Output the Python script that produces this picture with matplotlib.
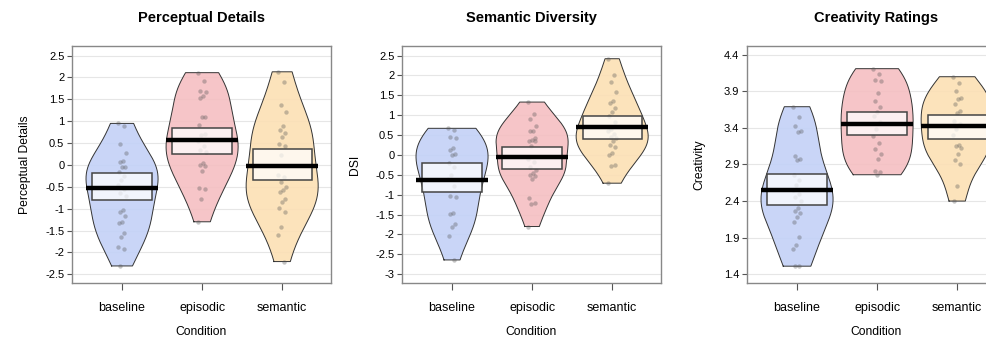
import numpy as np
import matplotlib
matplotlib.use("Agg")
import matplotlib.pyplot as plt

plt.rcParams['font.family'] = ['Liberation Sans', 'DejaVu Sans']
plt.rcParams['axes.unicode_minus'] = False

conditions = ["baseline", "episodic", "semantic"]
colors = ["#c3d1f7", "#f5bfc2", "#fce0b4"]

# Perceptual Details
pd_baseline = [0.95, 0.89, 0.48, 0.27, 0.08, 0.07, -0.04, -0.05, -0.17, -0.25, -0.35, -0.45,
               -0.55, -0.65, -0.70, -1.03, -1.07, -1.16, -1.30, -1.32, -1.55, -1.64, -1.87, -1.92, -2.31]
pd_episodic = [2.11, 1.93, 1.70, 1.66, 1.58, 1.54, 1.10, 1.09, 0.91, 0.71, 0.69, 0.55, 0.43, 0.34,
               0.30, 0.04, 0.00, -0.02, -0.14, -0.52, -0.55, -0.79, -1.30]
pd_semantic = [2.13, 1.89, 1.37, 1.22, 0.89, 0.80, 0.74, 0.63, 0.48, 0.43, 0.23, -0.23, -0.27,
               -0.38, -0.50, -0.57, -0.61, -0.77, -0.84, -0.99, -1.07, -1.43, -1.60, -2.21]
pd_means = [-0.52, 0.57, -0.02]
pd_low = [-0.80, 0.25, -0.34]
pd_high = [-0.175, 0.84, 0.36]

# Semantic Diversity (DSI)
dsi_baseline = [0.67, 0.63, 0.46, 0.42, 0.17, 0.13, 0.02, 0.00, -0.20, -0.30, -0.50, -0.60, -0.79,
                -1.02, -1.05, -1.46, -1.48, -1.74, -1.82, -2.03, -2.64]
dsi_episodic = [1.33, 1.03, 0.91, 0.73, 0.61, 0.59, 0.42, 0.38, 0.36, 0.34, 0.23, -0.10, -0.17,
                -0.30, -0.39, -0.45, -0.50, -0.54, -0.60, -1.09, -1.20, -1.24, -1.80]
dsi_semantic = [2.42, 2.01, 1.83, 1.59, 1.36, 1.30, 1.18, 1.08, 0.97, 0.84, 0.65, 0.60, 0.52, 0.45,
                0.42, 0.34, 0.25, 0.19, 0.04, 0.00, -0.25, -0.29, -0.71]
dsi_means = [-0.63, -0.06, 0.70]
dsi_low = [-0.94, -0.35, 0.40]
dsi_high = [-0.21, 0.21, 0.97]

# Creativity Ratings
cr_baseline = [3.69, 3.55, 3.42, 3.36, 3.34, 3.01, 2.97, 2.96, 2.75, 2.69, 2.62, 2.55, 2.49, 2.45,
               2.40, 2.30, 2.27, 2.24, 2.18, 2.11, 1.91, 1.80, 1.75, 1.51, 1.51]
cr_episodic = [4.21, 4.14, 4.06, 4.04, 3.88, 3.77, 3.69, 3.62, 3.56, 3.48, 3.38, 3.29, 3.20, 3.11,
               3.04, 2.97, 2.81, 2.80, 2.76]
cr_semantic = [4.10, 4.01, 3.90, 3.81, 3.79, 3.73, 3.63, 3.61, 3.50, 3.45, 3.39, 3.31, 3.16, 3.15,
               3.13, 3.04, 2.96, 2.90, 2.60, 2.40]
cr_means = [2.55, 3.46, 3.43]
cr_low = [2.34, 3.30, 3.25]
cr_high = [2.77, 3.62, 3.57]

panels = [
    ("Perceptual Details", "Perceptual Details", [pd_baseline, pd_episodic, pd_semantic],
     pd_means, pd_low, pd_high, [2.5, 2, 1.5, 1, 0.5, 0, -0.5, -1, -1.5, -2, -2.5], (-2.70, 2.72)),
    ("Semantic Diversity", "DSI", [dsi_baseline, dsi_episodic, dsi_semantic],
     dsi_means, dsi_low, dsi_high, [2.5, 2, 1.5, 1, 0.5, 0, -0.5, -1, -1.5, -2, -2.5, -3], (-3.22, 2.74)),
    ("Creativity Ratings", "Creativity", [cr_baseline, cr_episodic, cr_semantic],
     cr_means, cr_low, cr_high, [4.4, 3.9, 3.4, 2.9, 2.4, 1.9, 1.4], (1.28, 4.52)),
]


def bean(vals):
    v = np.asarray(vals)
    n = len(v)
    iqr = np.subtract(*np.percentile(v, [75, 25]))
    bw = 1.1 * 0.9 * min(v.std(ddof=1), iqr / 1.34) * n ** -0.2
    y = np.linspace(v.min(), v.max(), 200)
    d = np.exp(-0.5 * ((y[:, None] - v[None, :]) / bw) ** 2).sum(axis=1)
    return y, d / d.max() * 0.45


def fmt(t):
    return ("%g" % t)


fig = plt.figure(figsize=(9.87, 3.4), dpi=100)
lefts = [72, 402, 747]
for left, (title, ylab, groups, means, lows, highs, yticks, ylim) in zip(lefts, panels):
    ax = fig.add_axes([left / 987, 57 / 340, 259 / 987, 237 / 340])
    for yt in yticks:
        ax.axhline(yt, color="#e6e6e6", lw=0.8, zorder=0)
    for i, vals in enumerate(groups):
        x0 = i + 1
        y, w = bean(vals)
        xs = np.concatenate([x0 - w, (x0 + w)[::-1], [x0 - w[0]]])
        ys = np.concatenate([y, y[::-1], [y[0]]])
        ax.fill(xs, ys, color=colors[i], alpha=0.9, lw=0, zorder=1)
        ax.plot(xs, ys, color="#333333", lw=0.7, zorder=2)
        jit = np.array([((k * 7) % 11 - 5) / 5 * 0.05 for k in range(len(vals))])
        ax.scatter(x0 + jit, vals, s=10, color="#555555", alpha=0.35, lw=0, zorder=3)
        ax.add_patch(plt.Rectangle((x0 - 0.37, lows[i]), 0.74, highs[i] - lows[i],
                                   facecolor="white", alpha=0.75, edgecolor="none", zorder=4))
        ax.add_patch(plt.Rectangle((x0 - 0.37, lows[i]), 0.74, highs[i] - lows[i],
                                   facecolor="none", edgecolor="#444444", lw=1.1, zorder=5))
        ax.plot([x0 - 0.45, x0 + 0.45], [means[i], means[i]], color="black", lw=3.2,
                solid_capstyle="butt", zorder=6)
    ax.set_xlim(0.375, 3.61)
    ax.set_ylim(*ylim)
    ax.set_yticks(yticks)
    ax.set_yticklabels([fmt(t) for t in yticks], fontsize=8)
    ax.set_xticks([1, 2, 3])
    ax.set_xticklabels(conditions, fontsize=9)
    ax.tick_params(axis="x", length=5, pad=9, color="#555555")
    ax.tick_params(axis="y", length=3.5, pad=2, color="#555555")
    for s in ax.spines.values():
        s.set_color("#888888")
        s.set_linewidth(1.0)
    ax.set_title(title, fontsize=10.5, fontweight="bold", pad=17)
    ax.set_ylabel(ylab, fontsize=8.7)
    ax.yaxis.set_label_coords(-0.16, 0.5)
    ax.set_xlabel("Condition", fontsize=8.7)
    ax.xaxis.set_label_coords(0.5, -0.18)

fig.savefig("out.png", dpi=100)
